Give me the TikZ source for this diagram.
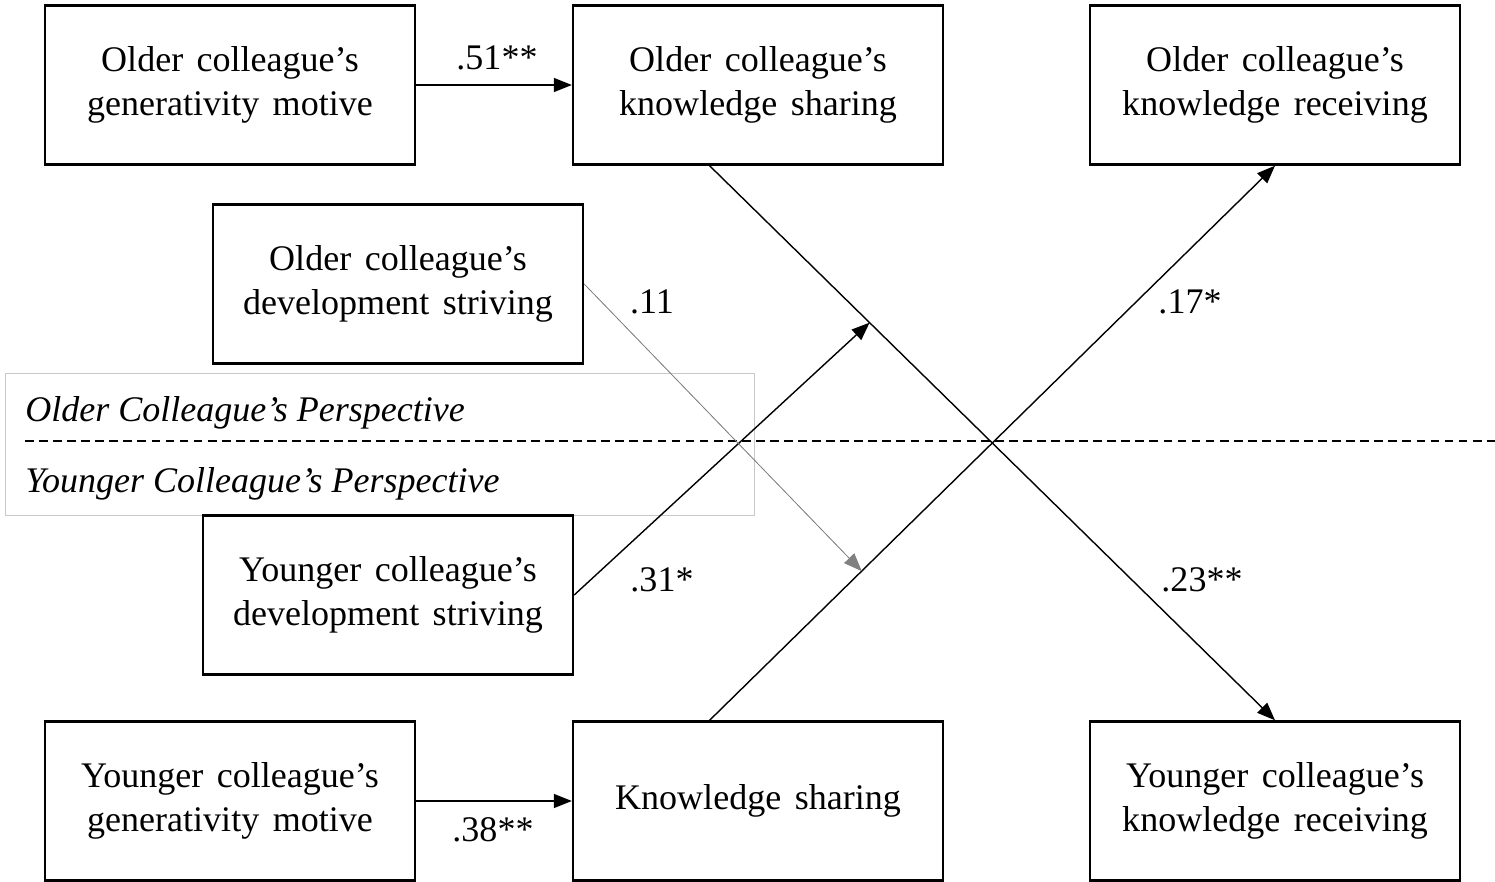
\documentclass[tikz,border=0pt]{standalone}
\usepackage{fontspec}
\setmainfont{Liberation Serif}[WordSpace=1.5]
\newfontfamily\perspfont{Liberation Serif}
\usepackage{tikz}
\usetikzlibrary{positioning,arrows.meta,calc}
\definecolor{framegrey}{HTML}{C8C8C8}
\definecolor{weakgrey}{HTML}{808080}
\tikzset{
  varbox/.style={rectangle, draw=black, line width=1.4pt, align=center,
                 minimum width=7.4cm, minimum height=3.18cm, inner sep=2pt,
                 font=\fontsize{20.5}{25}\selectfont},
  ar/.style={-{Triangle[length=3.6mm,width=2.8mm]}, line width=0.8pt, draw=black},
  arw/.style={-{Triangle[length=3.6mm,width=2.8mm]}, line width=0.45pt, draw=weakgrey, fill=black},
  coef/.style={font=\fontsize{20.5}{25}\selectfont, inner sep=0pt},
  persp/.style={font=\perspfont\fontsize{20.5}{25}\selectfont\itshape, anchor=west, inner sep=0pt},
}

\begin{document}
\begin{tikzpicture}[x=0.02cm, y=-0.02cm]
  \useasboundingbox (0,0) rectangle (1495,882);

  % perspective frame
  \draw[framegrey, line width=0.5pt] (5,373) rectangle (754,515);
  \coordinate (dl) at (25,441);
  \coordinate (dr) at (1495,441);
  \draw[dashed, line width=0.6pt, dash pattern=on 5pt off 3pt] (dl) -- (dr);
  \node[persp] (po) at (25,413) {Older Colleague’s Perspective};
  \node[persp] (py) at (25,484) {Younger Colleague’s Perspective};

  % older colleague
  \node[varbox] (genO) at (230,85) {Older colleague’s\\generativity motive};
  \node[varbox] (ksO) at (758,85) {Older colleague’s\\knowledge sharing};
  \node[varbox] (krO) at (1275,85) {Older colleague’s\\knowledge receiving};
  \node[varbox] (devO) at (398,284) {Older colleague’s\\development striving};

  % younger colleague
  \node[varbox] (devY) at (388,595) {Younger colleague’s\\development striving};
  \node[varbox] (genY) at (230,801) {Younger colleague’s\\generativity motive};
  \node[varbox] (ksY) at (758,801) {Knowledge sharing};
  \node[varbox] (krY) at (1275,801) {Younger colleague’s\\knowledge receiving};

  % paths
  \coordinate (ksOb) at ($(ksO.south west)!0.37!(ksO.south east)$);
  \coordinate (ksYt) at ($(ksY.north west)!0.37!(ksY.north east)$);
  \coordinate (modO) at ($(ksOb)!0.283!(krY.north)$);
  \coordinate (modY) at ($(ksYt)!0.269!(krO.south)$);

  \draw[ar] (genO.east) -- (ksO.west);
  \draw[ar] (genY.east) -- (ksY.west);
  \draw[ar] (ksOb) -- (krY.north);
  \draw[ar] (ksYt) -- (krO.south);
  \draw[ar] (devY.east) -- (modO);
  \draw[arw] (devO.east) -- (modY);

  % coefficients
  \node[coef] (c1) at (497,58) {.51**};
  \node[coef] (c2) at (493,830) {.38**};
  \node[coef] (c3) at (652,302) {.11};
  \node[coef] (c4) at (662,580) {.31*};
  \node[coef] (c5) at (1190,302) {.17*};
  \node[coef] (c6) at (1202,580) {.23**};
\end{tikzpicture}
\end{document}
